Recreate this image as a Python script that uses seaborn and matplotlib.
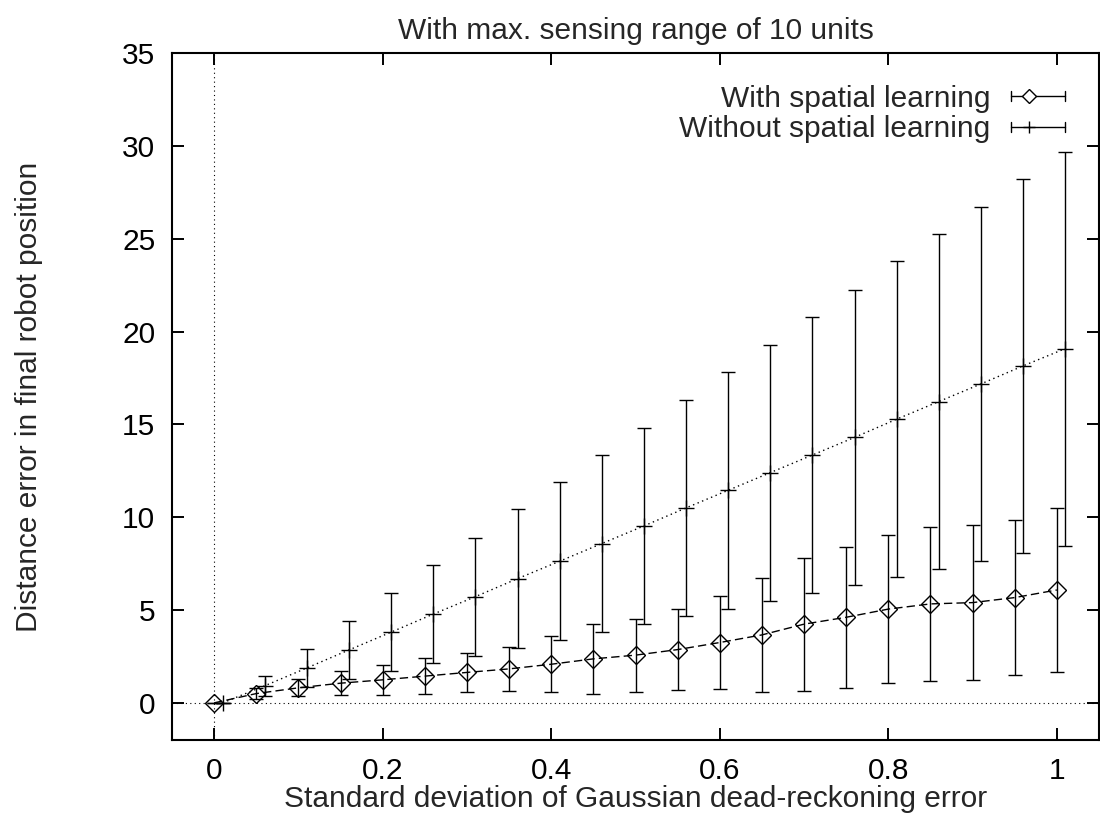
import numpy as np
import matplotlib
matplotlib.use("Agg")
import matplotlib.pyplot as plt
import seaborn as sns
from matplotlib.lines import Line2D
from matplotlib.legend_handler import HandlerBase

# ---------------- data ----------------
x_with = [0.0, 0.05, 0.10, 0.15, 0.20, 0.25, 0.30, 0.35, 0.40, 0.45, 0.50,
          0.55, 0.60, 0.65, 0.70, 0.75, 0.80, 0.85, 0.90, 0.95, 1.00]
mean_with = [0.0, 0.50, 0.81, 1.06, 1.24, 1.44, 1.64, 1.83, 2.08, 2.37, 2.57,
             2.87, 3.25, 3.66, 4.24, 4.61, 5.05, 5.33, 5.40, 5.67, 6.08]
err_with = [0.0, 0.29, 0.46, 0.65, 0.79, 0.95, 1.07, 1.19, 1.50, 1.88, 1.97,
            2.16, 2.52, 3.06, 3.58, 3.80, 3.99, 4.13, 4.18, 4.16, 4.41]

x_without = [0.01, 0.06, 0.11, 0.16, 0.21, 0.26, 0.31, 0.36, 0.41, 0.46, 0.51,
             0.56, 0.61, 0.66, 0.71, 0.76, 0.81, 0.86, 0.91, 0.96, 1.01]
mean_without = [0.0, 0.92, 1.88, 2.85, 3.81, 4.78, 5.72, 6.69, 7.63, 8.58, 9.53,
                10.50, 11.45, 12.40, 13.35, 14.30, 15.28, 16.23, 17.18, 18.15, 19.08]
err_without = [0.0, 0.53, 1.04, 1.58, 2.10, 2.64, 3.17, 3.73, 4.24, 4.76, 5.28,
               5.83, 6.37, 6.89, 7.41, 7.95, 8.50, 9.01, 9.55, 10.09, 10.61]

labels = ["With spatial learning", "Without spatial learning"]
x_ticks = [0, 0.2, 0.4, 0.6, 0.8, 1.0]
x_ticklabels = ["0", "0.2", "0.4", "0.6", "0.8", "1"]
y_ticks = [0, 5, 10, 15, 20, 25, 30, 35]

title = "With max. sensing range of 10 units"
xlabel = "Standard deviation of Gaussian dead-reckoning error"
ylabel = "Distance error in final robot position"

# ---------------- style ----------------
sns.set_style("ticks")
plt.rcParams["font.family"] = ["Liberation Sans", "DejaVu Sans"]
FS = 21.5

fig = plt.figure(figsize=(11, 8.21), dpi=100)
ax = fig.add_axes([172 / 1100, 1 - 740 / 821, (1099 - 172) / 1100, (740 - 53) / 821])

# zero axes (gnuplot style)
ax.axhline(0, color="black", lw=0.8, ls=(0, (1, 3)), zorder=0)
ax.axvline(0, color="black", lw=0.8, ls=(0, (1, 3)), zorder=0)

# error bars
ax.errorbar(x_with, mean_with, yerr=err_with, fmt="none", ecolor="black",
            elinewidth=1.0, capsize=4.7, capthick=1.0, zorder=2)
ax.errorbar(x_without, mean_without, yerr=err_without, fmt="none", ecolor="black",
            elinewidth=1.0, capsize=4.7, capthick=1.0, zorder=2)

# lines with markers via seaborn
sns.lineplot(x=x_with, y=mean_with, ax=ax, color="black", lw=1.0,
             linestyle=(0, (6, 3)), marker="D", ms=9, mfc="none",
             mec="black", mew=1.0, zorder=3, legend=False)
sns.lineplot(x=x_without, y=mean_without, ax=ax, color="black", lw=1.0,
             linestyle=(0, (1, 2.5)), marker="+", ms=11, mec="black",
             mew=1.0, zorder=3, legend=False)

ax.set_xlim(-0.05, 1.05)
ax.set_ylim(-2, 35)
ax.set_xticks(x_ticks)
ax.set_xticklabels(x_ticklabels)
ax.set_yticks(y_ticks)
ax.tick_params(direction="in", length=8.6, width=1.4, labelsize=FS,
               top=True, right=True, colors="black")
ax.tick_params(axis="x", pad=12)
ax.tick_params(axis="y", pad=12)
for s in ax.spines.values():
    s.set_linewidth(1.5)
    s.set_color("black")

ax.set_title(title, fontsize=FS, pad=10)
ax.set_xlabel(xlabel, fontsize=FS, labelpad=0)
ax.set_ylabel(ylabel, fontsize=FS, labelpad=57)


# gnuplot-like key: horizontal error bar sample with marker
class ErrKeyHandler(HandlerBase):
    def create_artists(self, legend, orig_handle, xdescent, ydescent,
                       width, height, fontsize, trans):
        y = height / 2 - ydescent
        x0, x1 = -xdescent, width - xdescent
        cap = 5.0 * 72 / 100
        arts = [
            Line2D([x0, x1], [y, y], color="black", lw=1.0),
            Line2D([x0, x0], [y - cap, y + cap], color="black", lw=1.0),
            Line2D([x1, x1], [y - cap, y + cap], color="black", lw=1.0),
            Line2D([x0 + (x1 - x0) * 0.33], [y], ls="none",
                   marker=orig_handle.get_marker(), ms=orig_handle.get_markersize() * 0.8,
                   mfc="white", mec="black", mew=1.0),
        ]
        for a in arts:
            a.set_transform(trans)
        return arts


h1 = Line2D([], [], marker="D", ms=9)
h2 = Line2D([], [], marker="+", ms=11)
ax.legend([h1, h2], labels, loc="upper right", bbox_to_anchor=(0.963, 0.954),
          frameon=False, markerfirst=False, fontsize=FS, borderpad=0,
          borderaxespad=0, handlelength=1.8, handletextpad=0.7,
          labelspacing=0.08,
          handler_map={Line2D: ErrKeyHandler()})

fig.savefig("out.png", dpi=100)
